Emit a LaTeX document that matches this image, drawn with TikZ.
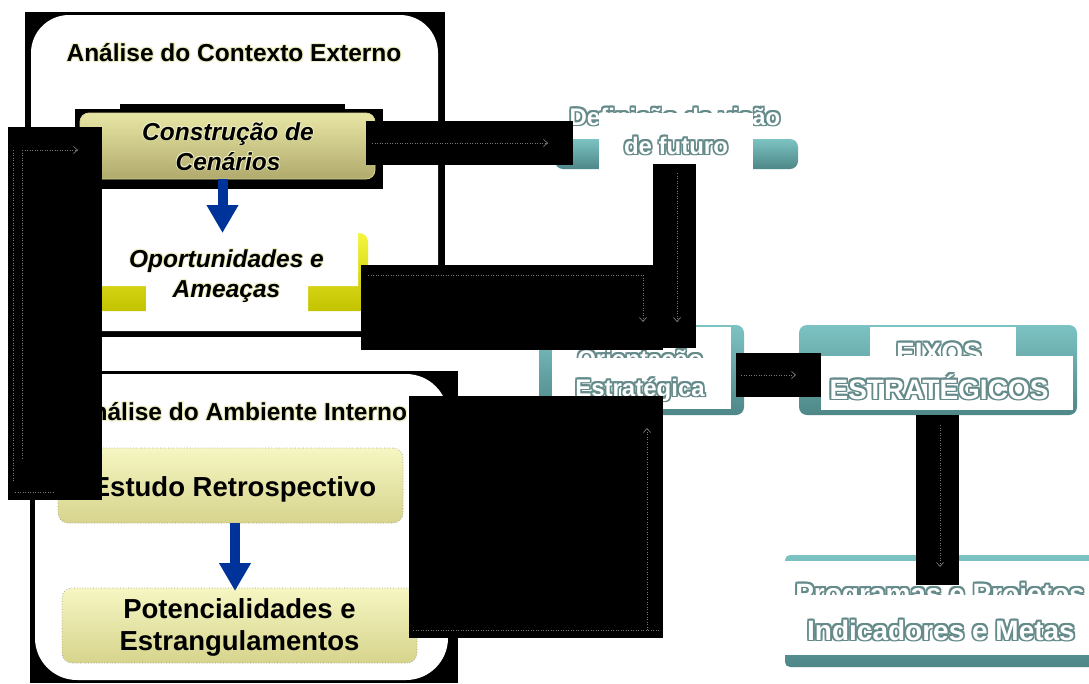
\documentclass[tikz,border=0pt]{standalone}
\usepackage{fontspec}
\setmainfont{Liberation Sans}
\usetikzlibrary{arrows.meta}
\definecolor{khT}{RGB}{232,230,165}
\definecolor{khB}{RGB}{176,170,108}
\definecolor{khE}{RGB}{215,212,150}
\definecolor{yT}{RGB}{245,245,60}
\definecolor{yB}{RGB}{195,195,0}
\definecolor{lyT}{RGB}{246,246,195}
\definecolor{lyB}{RGB}{214,212,140}
\definecolor{tT}{RGB}{125,195,195}
\definecolor{tB}{RGB}{78,135,135}
\definecolor{tealtxt}{RGB}{100,138,138}
\definecolor{haloc}{RGB}{238,238,195}
\definecolor{arrowblue}{RGB}{0,51,153}
\definecolor{traceg}{RGB}{120,120,120}
\newcommand\ringtext[3]{%
 \rlap{\color{#1}\kern#2\relax #3}%
 \rlap{\color{#1}\kern-#2\relax #3}%
 \rlap{\color{#1}\raisebox{#2}{#3}}%
 \rlap{\color{#1}\raisebox{-#2}{#3}}%
 \rlap{\color{#1}\kern#2\relax\raisebox{#2}{#3}}%
 \rlap{\color{#1}\kern-#2\relax\raisebox{#2}{#3}}%
 \rlap{\color{#1}\kern#2\relax\raisebox{-#2}{#3}}%
 \rlap{\color{#1}\kern-#2\relax\raisebox{-#2}{#3}}%
 #3}
\begin{document}
\begin{tikzpicture}[x=1pt,y=-1pt,
 every node/.style={inner sep=0pt, outer sep=0pt},
 kbox/.style={rounded corners=9pt, top color=khT, bottom color=khB, draw=khE, line width=0.8pt},
 ybox/.style={rounded corners=9pt, top color=yT, bottom color=yB},
 lybox/.style={rounded corners=10pt, top color=lyT, bottom color=lyB, draw=gray!80, line width=0.7pt, dotted},
 tbox/.style={rounded corners=8pt, top color=tT, bottom color=tB},
 lbl/.style={anchor=base, font=\bfseries\fontsize{24.5}{29}\selectfont},
 lbli/.style={anchor=base, font=\bfseries\itshape\fontsize{24.5}{29}\selectfont},
 lblbig/.style={anchor=base, font=\bfseries\fontsize{27.5}{32}\selectfont},
 rlbl/.style={anchor=base, text=white, font=\bfseries\fontsize{24}{28}\selectfont},
 rlblbig/.style={anchor=base, text=white, font=\bfseries\fontsize{28}{32}\selectfont},
 barrow/.style={draw=arrowblue, line width=10pt, -{Triangle[width=30pt,length=28pt]}},
 trace/.style={draw=traceg, line width=0.7pt, dash pattern=on 1pt off 1.5pt},
 tracetip/.style={trace, -{Straight Barb[length=4pt,width=7pt]}}]
\useasboundingbox (0,0) rectangle (1089,683);
\fill[white] (0,0) rectangle (1089,683);

% ---------- upper panel ----------
\fill[black] (25,12) rectangle (445,337);
\fill[white, rounded corners=38pt] (31,15) rectangle (438,331);
\node[lbl] (t1) at (234,61) {\ringtext{haloc}{1pt}{Análise do Contexto Externo}};

\fill[black] (75,109) rectangle (383,189);
\fill[black] (120,104) rectangle (345,110);
\node[kbox, minimum width=295pt, minimum height=66pt] (cbox) at (227.5,146) {};
\node[lbli] (cons1) at (228,140) {\ringtext{haloc}{0.8pt}{Construção de}};
\node[lbli] (cons2) at (228,170) {\ringtext{haloc}{0.8pt}{Cenários}};

\node[ybox, minimum width=273pt, minimum height=78pt] (opbox) at (231.5,272) {};
\fill[white] (95,225) -- (358,225) -- (358,286) -- (308,286) -- (308,330) -- (146,330) -- (146,286) -- (95,286) -- cycle;
\node[lbli] (op1) at (226.5,267) {\ringtext{haloc}{0.8pt}{Oportunidades e}};
\node[lbli] (op2) at (226.5,297) {\ringtext{haloc}{0.8pt}{Ameaças}};

\draw[barrow] ([xshift=-5pt]cbox.south) -- ([xshift=-5pt]cbox.south |- opbox.north);

% ---------- lower panel ----------
\fill[black] (30,371) rectangle (458,683);
\fill[white, rounded corners=42pt] (35,374) rectangle (448,680);
\node[lbl] (t2) at (241,420) {\ringtext{haloc}{1pt}{Análise do Ambiente Interno}};

\node[lybox, minimum width=345pt, minimum height=75pt] (estbox) at (230.5,485.5) {};
\node[lblbig] (est) at (234,496) {Estudo Retrospectivo};

\node[lybox, minimum width=355pt, minimum height=75pt] (potbox) at (239.5,625.5) {};
\node[lblbig] (pot1) at (239.5,618) {Potencialidades e};
\node[lblbig] (pot2) at (239.5,650) {Estrangulamentos};

\draw[barrow] ([xshift=4.5pt]estbox.south) -- ([xshift=4.5pt,yshift=-3pt]estbox.south |- potbox.north);

% ---------- right side ----------
\node[tbox, minimum width=243pt, minimum height=30pt] (defbox) at (676.5,154) {};
\node[rlbl] (def1) at (675,125) {\ringtext{tealtxt}{1.5pt}{Definição da visão}};
\fill[white] (599,113) rectangle (753,171);
\node[rlbl] (def2) at (676,154) {\ringtext{tealtxt}{1.5pt}{de futuro}};

\node[tbox, minimum width=205pt, minimum height=90pt] (orbox) at (641.5,370) {};
\fill[white] (552,327) rectangle (731,409);
\node[rlbl] (or1) at (640,367) {\ringtext{tealtxt}{1.5pt}{Orientação}};
\fill[white] (552,358) rectangle (731,409);
\node[rlbl] (or2) at (640,396) {\ringtext{tealtxt}{1.5pt}{Estratégica}};

\node[tbox, minimum width=278pt, minimum height=90pt] (eixbox) at (938,370) {};
\fill[white] (870,327) rectangle (1016,358);
\node[rlblbig] (eix1) at (939,362) {\ringtext{tealtxt}{1.6pt}{EIXOS}};
\fill[white] (821,356) rectangle (1073,410);
\node[rlblbig] (eix2) at (939,399) {\ringtext{tealtxt}{1.6pt}{ESTRATÉGICOS}};

\node[tbox, rounded corners=5pt, minimum width=320pt, minimum height=112pt] (progbox) at (945,611) {};
\fill[white] (785,561) rectangle (1089,655);
\node[rlblbig] (prog1) at (940,603) {\ringtext{tealtxt}{1.6pt}{Programas e Projetos}};
\fill[white] (785,595) rectangle (1089,654);
\node[rlblbig] (prog2) at (941,640) {\ringtext{tealtxt}{1.6pt}{Indicadores e Metas}};

% ---------- black patches ----------
\fill[black] (8,127) rectangle (102,500);
\fill[black] (366,121) rectangle (573,165);
\fill[black] (361,265) rectangle (663,350);
\fill[black] (653,164) rectangle (696,348);
\fill[black] (409,396) rectangle (663,638);
\fill[black] (736,353) rectangle (821,397);
\fill[black] (916,415) rectangle (959,585);

% ---------- faint connector traces ----------
\draw[trace] (13,150) -- (13,482);
\draw[trace] (22,150) -- (22,460);
\draw[tracetip] (22,150) -- (78,150);
\draw[trace] (15,492) -- (55,492);
\draw[tracetip] (372,143) -- (548,143);
\draw[tracetip] (677,173) -- (677,322);
\draw[trace] (368,275) -- (643,275);
\draw[tracetip] (643,275) -- (643,322);
\draw[tracetip] (741,375) -- (796,375);
\draw[tracetip] (940,425) -- (940,567);
\draw[tracetip] (647,630) -- (647,428);
\draw[trace] (413,630) -- (660,630);
\end{tikzpicture}
\end{document}
